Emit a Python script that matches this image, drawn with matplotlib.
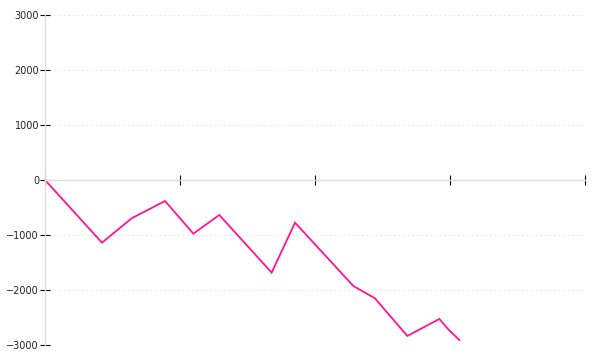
import matplotlib
matplotlib.use("Agg")
import matplotlib.pyplot as plt

# cumulative values (x in tick units, 100 per tick)
x_vals = [0, 42.2, 64.2, 88.9, 109.9, 129.1, 167.9, 185.2, 228.4, 244.4, 268.4, 292.1, 298.7, 306.9]
y_vals = [0, -1140, -696, -382, -976, -636, -1685, -776, -1927, -2151, -2836, -2527, -2715, -2909]
x_ticks = [0, 100, 200, 300, 400]
y_ticks = [-3000, -2000, -1000, 0, 1000, 2000, 3000]

fig = plt.figure(figsize=(6, 3.6), dpi=100)
ax = fig.add_axes([0.075, 0.0417, 0.9, 0.9166])

ax.plot(x_vals, y_vals, color="#ff1493", linewidth=1.3, solid_joinstyle="miter")

ax.set_xlim(0, 400)
ax.set_ylim(-3000, 3000)
ax.set_xticks(x_ticks)
ax.set_xticklabels([])
ax.set_yticks(y_ticks)

# spines: y axis at left, x axis through zero
for side in ["top", "right"]:
    ax.spines[side].set_visible(False)
ax.spines["left"].set_color("#dddddd")
ax.spines["bottom"].set_color("#dddddd")
ax.spines["bottom"].set_position(("data", 0))
ax.spines["left"].set_linewidth(1.0)
ax.spines["bottom"].set_linewidth(1.0)

ax.tick_params(axis="both", direction="inout", length=6.5, width=0.8, color="black",
               labelsize=7, labelcolor="#222222")
ax.tick_params(axis="y", pad=1)

ax.yaxis.grid(True, color="#e8e8e8", linewidth=0.75, linestyle=(0, (1.5, 2.9)))
ax.set_axisbelow(True)

fig.savefig("out.png", dpi=100)
